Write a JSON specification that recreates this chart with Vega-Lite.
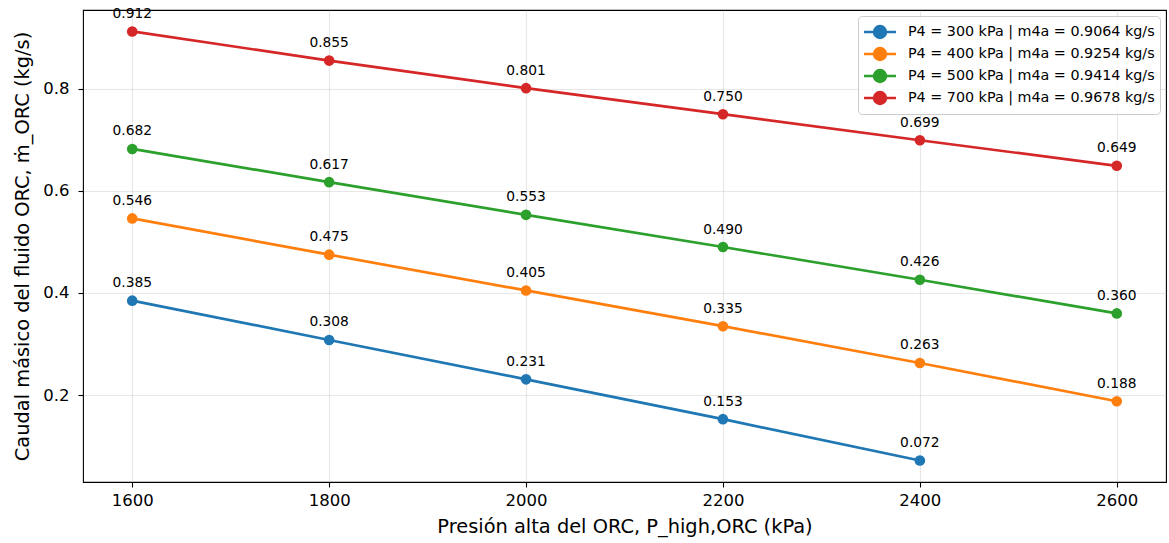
{
  "$schema": "https://vega.github.io/schema/vega-lite/v6.json",
  "width": 1083,
  "height": 472,
  "autosize": {"type": "none"},
  "padding": {"left": 83, "top": 10, "right": 3, "bottom": 61},
  "background": "white",
  "config": {
    "font": "DejaVu Sans",
    "view": {"stroke": "#000000", "strokeWidth": 1.1},
    "axis": {
      "domain": false,
      "grid": true,
      "gridColor": "#b0b0b0",
      "gridOpacity": 0.3,
      "gridWidth": 1.1,
      "tickColor": "#000000",
      "tickSize": 5,
      "tickWidth": 1.1,
      "labelColor": "#000000",
      "labelFont": "DejaVu Sans",
      "labelFontSize": 16.5,
      "labelPadding": 5,
      "titleColor": "#000000",
      "titleFont": "DejaVu Sans",
      "titleFontSize": 19.4,
      "titleFontWeight": "normal"
    }
  },
  "data": {
    "values": [
      {"serie": "P4 = 300 kPa | m4a = 0.9064 kg/s", "p_high": 1600, "m_orc": 0.385},
      {"serie": "P4 = 300 kPa | m4a = 0.9064 kg/s", "p_high": 1800, "m_orc": 0.308},
      {"serie": "P4 = 300 kPa | m4a = 0.9064 kg/s", "p_high": 2000, "m_orc": 0.231},
      {"serie": "P4 = 300 kPa | m4a = 0.9064 kg/s", "p_high": 2200, "m_orc": 0.153},
      {"serie": "P4 = 300 kPa | m4a = 0.9064 kg/s", "p_high": 2400, "m_orc": 0.072},
      {"serie": "P4 = 400 kPa | m4a = 0.9254 kg/s", "p_high": 1600, "m_orc": 0.546},
      {"serie": "P4 = 400 kPa | m4a = 0.9254 kg/s", "p_high": 1800, "m_orc": 0.475},
      {"serie": "P4 = 400 kPa | m4a = 0.9254 kg/s", "p_high": 2000, "m_orc": 0.405},
      {"serie": "P4 = 400 kPa | m4a = 0.9254 kg/s", "p_high": 2200, "m_orc": 0.335},
      {"serie": "P4 = 400 kPa | m4a = 0.9254 kg/s", "p_high": 2400, "m_orc": 0.263},
      {"serie": "P4 = 400 kPa | m4a = 0.9254 kg/s", "p_high": 2600, "m_orc": 0.188},
      {"serie": "P4 = 500 kPa | m4a = 0.9414 kg/s", "p_high": 1600, "m_orc": 0.682},
      {"serie": "P4 = 500 kPa | m4a = 0.9414 kg/s", "p_high": 1800, "m_orc": 0.617},
      {"serie": "P4 = 500 kPa | m4a = 0.9414 kg/s", "p_high": 2000, "m_orc": 0.553},
      {"serie": "P4 = 500 kPa | m4a = 0.9414 kg/s", "p_high": 2200, "m_orc": 0.490},
      {"serie": "P4 = 500 kPa | m4a = 0.9414 kg/s", "p_high": 2400, "m_orc": 0.426},
      {"serie": "P4 = 500 kPa | m4a = 0.9414 kg/s", "p_high": 2600, "m_orc": 0.360},
      {"serie": "P4 = 700 kPa | m4a = 0.9678 kg/s", "p_high": 1600, "m_orc": 0.912},
      {"serie": "P4 = 700 kPa | m4a = 0.9678 kg/s", "p_high": 1800, "m_orc": 0.855},
      {"serie": "P4 = 700 kPa | m4a = 0.9678 kg/s", "p_high": 2000, "m_orc": 0.801},
      {"serie": "P4 = 700 kPa | m4a = 0.9678 kg/s", "p_high": 2200, "m_orc": 0.750},
      {"serie": "P4 = 700 kPa | m4a = 0.9678 kg/s", "p_high": 2400, "m_orc": 0.699},
      {"serie": "P4 = 700 kPa | m4a = 0.9678 kg/s", "p_high": 2600, "m_orc": 0.649}
    ]
  },
  "encoding": {
    "x": {
      "field": "p_high",
      "type": "quantitative",
      "scale": {"domain": [1550, 2650], "nice": false, "zero": false},
      "axis": {
        "values": [1600, 1800, 2000, 2200, 2400, 2600],
        "format": "d",
        "title": "Presión alta del ORC, P_high,ORC (kPa)",
        "titlePadding": 9
      }
    },
    "y": {
      "field": "m_orc",
      "type": "quantitative",
      "scale": {"domain": [0.03, 0.954], "nice": false, "zero": false},
      "axis": {
        "values": [0.2, 0.4, 0.6, 0.8],
        "format": ".1f",
        "labelPadding": 9,
        "title": "Caudal másico del fluido ORC, ṁ_ORC (kg/s)",
        "titlePadding": 10.5
      }
    },
    "color": {
      "field": "serie",
      "type": "nominal",
      "scale": {
        "domain": [
          "P4 = 300 kPa | m4a = 0.9064 kg/s",
          "P4 = 400 kPa | m4a = 0.9254 kg/s",
          "P4 = 500 kPa | m4a = 0.9414 kg/s",
          "P4 = 700 kPa | m4a = 0.9678 kg/s"
        ],
        "range": ["#1f77b4", "#ff7f0e", "#2ca02c", "#d62728"]
      },
      "legend": {
        "title": null,
        "orient": "top-right",
        "offset": 6,
        "symbolType": "M-1.68,0L1.68,0M-0.63,0A0.63,0.63,0,1,1,0.63,0A0.63,0.63,0,1,1,-0.63,0Z",
        "symbolSize": 361,
        "symbolStrokeWidth": 2.5,
        "symbolOffset": 6,
        "labelFont": "DejaVu Sans",
        "labelFontSize": 14.3,
        "labelColor": "#000000",
        "labelOffset": 17,
        "labelLimit": 400,
        "padding": 5,
        "rowPadding": 0,
        "fillColor": "rgba(255,255,255,0.8)",
        "strokeColor": "#cccccc",
        "cornerRadius": 4,
        "encode": {
          "symbols": {
            "update": {
              "fill": {"scale": "color", "field": "value"},
              "stroke": {"scale": "color", "field": "value"},
              "opacity": {"value": 1}
            }
          }
        }
      }
    }
  },
  "layer": [
    {"mark": {"type": "line", "strokeWidth": 2.7}},
    {"mark": {"type": "point", "filled": true, "size": 113, "opacity": 1}},
    {
      "mark": {"type": "text", "dy": -13.5, "baseline": "alphabetic", "fontSize": 13.8, "font": "DejaVu Sans"},
      "encoding": {
        "text": {"field": "m_orc", "type": "quantitative", "format": ".3f"},
        "color": {"value": "#000000"}
      }
    }
  ]
}
